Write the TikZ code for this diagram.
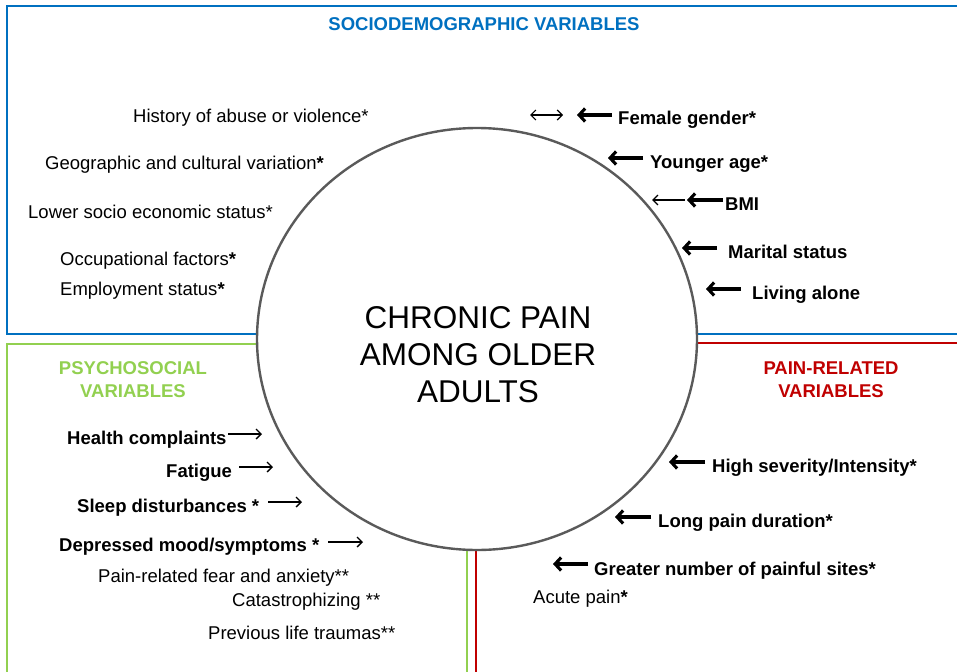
\documentclass[tikz,border=0pt]{standalone}
\usepackage{fontspec}
\setmainfont{Liberation Sans}
\usetikzlibrary{arrows.meta,shapes.geometric}
\definecolor{sdblue}{HTML}{0070C0}
\definecolor{psgreen}{HTML}{92D050}
\definecolor{prred}{HTML}{C00000}
\definecolor{ringgray}{HTML}{5A5A5A}
\begin{document}
\begin{tikzpicture}[x=1pt,y=-1pt,
  item/.style={anchor=base west, inner sep=0pt, font=\fontsize{18.5}{22}\selectfont},
  bitem/.style={anchor=base west, inner sep=0pt, font=\fontsize{18.5}{22}\selectfont\bfseries},
  head/.style={anchor=base, inner sep=0pt, font=\fontsize{18.5}{22}\selectfont\bfseries},
  title/.style={anchor=base, inner sep=0pt, font=\fontsize{31.5}{37}\selectfont},
  thickarr/.style={line width=3.1pt, -{Straight Barb[length=6pt,width=13pt]}},
  thinarr/.style={line width=1.3pt, -{Straight Barb[length=5pt,width=10pt]}},
  dblarr/.style={line width=1.2pt, {Straight Barb[length=5pt,width=10pt]}-{Straight Barb[length=5pt,width=10pt]}},
  boxline/.style={line width=2.5pt}
]
\useasboundingbox (0,0) rectangle (957,671);
\clip (0,0) rectangle (957,671);
% boxes
\draw[boxline, sdblue] (7,6) rectangle (970,334);
\draw[boxline, psgreen] (7,344) rectangle (467,680);
\draw[boxline, prred, line width=2pt] (476,343) rectangle (970,680);
% central ellipse
\node[draw=ringgray, line width=2.4pt, fill=white, ellipse, minimum width=440pt, minimum height=422pt, inner sep=0pt] (core) at (477,339) {};
\node[title] (t1) at (478,328) {CHRONIC PAIN};
\node[title] (t2) at (478,365) {AMONG OLDER};
\node[title] (t3) at (478,402) {ADULTS};
% headings
\node[head, text=sdblue] (hsd) at (484,31) {SOCIODEMOGRAPHIC VARIABLES};
\node[head, text=psgreen] (hps1) at (133,374) {PSYCHOSOCIAL};
\node[head, text=psgreen] (hps2) at (133,397) {VARIABLES};
\node[head, text=prred] (hpr1) at (831,374) {PAIN-RELATED};
\node[head, text=prred] (hpr2) at (831,397) {VARIABLES};
% sociodemographic left
\node[item] (abuse) at (133,123) {History of abuse or violence*};
\node[item] (geo) at (45,169) {Geographic and cultural variation\textbf{*}};
\node[item] (ses) at (28,218) {Lower socio economic status*};
\node[item] (occ) at (60,265) {Occupational factors\textbf{*}};
\node[item] (emp) at (60,295) {Employment status\textbf{*}};
% sociodemographic right
\node[bitem] (fem) at (618,125) {Female gender*};
\node[bitem] (age) at (650,168) {Younger age*};
\node[bitem] (bmi) at (725,210) {BMI};
\node[bitem] (mar) at (728,258) {Marital status};
\node[bitem] (liv) at (752,299) {Living alone};
\coordinate (femA) at (577,115);
\coordinate (dblA) at (530,115);
\coordinate (dblB) at (563,115);
\coordinate (ageA) at (608,158);
\coordinate (bmiA) at (687,200);
\coordinate (bmiB) at (652,200);
\coordinate (marA) at (682,248);
\coordinate (livA) at (706,289);
\draw[thickarr] (fem.west |- femA) ++(-6,0) -- (femA);
\draw[dblarr] (dblA) -- (dblB);
\draw[thickarr] (age.west |- ageA) ++(-7,0) -- (ageA);
\draw[thickarr] (bmi.west |- bmiA) ++(-2,0) -- (bmiA);
\draw[thinarr] (bmiA) ++(-2,0) -- (bmiB);
\draw[thickarr] (mar.west |- marA) ++(-11,0) -- (marA);
\draw[thickarr] (liv.west |- livA) ++(-11,0) -- (livA);
% psychosocial
\node[bitem] (hc) at (67,444) {Health complaints};
\node[bitem] (fat) at (166,477) {Fatigue};
\node[bitem] (sleep) at (77,512) {Sleep disturbances *};
\node[bitem] (dep) at (59,551) {Depressed mood/symptoms *};
\node[item] (fear) at (98,582) {Pain-related fear and anxiety**};
\node[item] (cat) at (232,606) {Catastrophizing **};
\node[item] (trau) at (208,639) {Previous life traumas**};
\coordinate (hcA) at (262,434);
\coordinate (fatA) at (273,467);
\coordinate (sleepA) at (302,502);
\coordinate (depA) at (363,542);
\draw[thinarr] (228,434) -- (hcA);
\draw[thinarr] (239,467) -- (fatA);
\draw[thinarr] (268,502) -- (sleepA);
\draw[thinarr] (328,542) -- (depA);
% pain-related
\node[bitem] (sev) at (712,472) {High severity/Intensity*};
\node[bitem] (dur) at (658,527) {Long pain duration*};
\node[bitem] (sites) at (594,575) {Greater number of painful sites*};
\node[item] (acute) at (533,603) {Acute pain\textbf{*}};
\coordinate (sevA) at (669,462);
\coordinate (durA) at (615,517);
\coordinate (sitesA) at (553,564);
\draw[thickarr] (sev.west |- sevA) ++(-7,0) -- (sevA);
\draw[thickarr] (dur.west |- durA) ++(-7,0) -- (durA);
\draw[thickarr] (sites.west |- sitesA) ++(-6,0) -- (sitesA);
\end{tikzpicture}
\end{document}
